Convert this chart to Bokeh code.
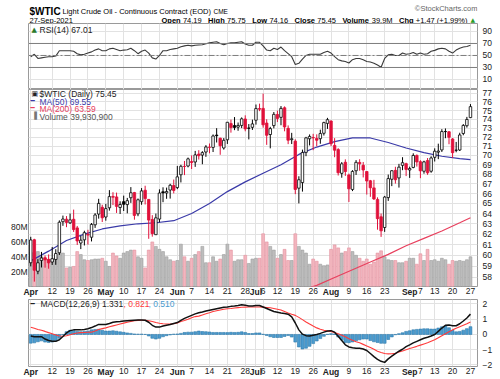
import pandas as pd
from bokeh.plotting import figure
from bokeh.layouts import column
from bokeh.models import (Range1d, FixedTicker, LinearAxis, LinearScale, Label,
                          Span, ColumnDataSource, CustomJSTickFormatter, BasicTickFormatter)
from bokeh.embed import file_html
from bokeh.resources import INLINE

FONT = "Liberation Sans"

# ---------------- data ----------------
first_day, last_day = "2021-04-01", "2021-09-27"
holidays = ["2021-04-02", "2021-05-31", "2021-07-05", "2021-09-06"]
close_before_start = 59.16

opens = [59.33, 61.47, 58.56, 59.54, 59.79, 59.64, 59.40, 59.63, 60.25, 63.20,
         63.45, 63.09, 63.44, 62.60, 61.16, 61.46, 61.99, 61.71, 62.90, 63.95,
         64.62, 63.66, 64.57, 65.71, 65.66, 64.60, 65.18, 64.89, 65.58, 66.10,
         63.97, 65.18, 66.34, 65.41, 63.42, 61.95, 63.46, 66.18, 66.06, 66.36,
         66.82, 66.61, 67.94, 68.82, 68.86, 69.33, 69.29, 70.14, 70.03, 70.36,
         70.86, 70.86, 72.22, 71.87, 70.80, 71.70, 73.51, 73.28, 73.11, 73.30,
         74.03, 73.01, 73.09, 73.89, 75.23, 75.25, 73.57, 72.28, 73.28, 74.55,
         74.22, 75.32, 72.97, 71.71, 71.55, 66.55, 67.13, 70.32, 71.81, 71.95,
         71.85, 71.82, 72.42, 73.53, 73.80, 71.08, 70.62, 68.09, 69.26, 67.92,
         66.42, 68.36, 69.24, 68.94, 68.28, 67.31, 66.58, 65.41, 63.68, 62.64,
         65.59, 67.47, 68.40, 67.61, 68.93, 69.11, 68.44, 68.71, 69.99, 69.32,
         68.31, 69.44, 68.31, 69.79, 70.35, 70.59, 72.61, 72.59, 71.79, 70.55,
         70.58, 72.40, 73.27, 74.19]
highs = [61.75, 61.56, 59.66, 60.33, 60.00, 60.10, 60.79, 60.58, 63.33, 63.80,
         63.75, 64.00, 64.39, 62.79, 61.84, 62.33, 62.42, 63.07, 64.04, 65.47,
         64.87, 64.96, 66.35, 66.14, 66.10, 65.22, 65.79, 65.56, 66.66, 66.17,
         65.50, 66.56, 66.80, 65.43, 63.84, 64.00, 66.43, 66.64, 66.61, 67.00,
         67.44, 68.87, 68.99, 69.40, 69.76, 70.00, 70.48, 70.56, 70.45, 71.11,
         71.29, 72.29, 72.99, 71.93, 71.89, 73.69, 73.96, 74.25, 73.63, 74.21,
         74.45, 73.46, 73.96, 75.70, 75.80, 76.98, 74.00, 73.14, 74.83, 74.99,
         75.52, 75.48, 73.30, 72.47, 71.75, 67.78, 70.62, 72.02, 72.29, 72.36,
         72.30, 72.82, 73.72, 74.16, 73.87, 71.88, 70.78, 69.28, 69.57, 68.06,
         68.42, 69.49, 69.58, 69.29, 68.28, 67.40, 67.41, 65.62, 64.00, 65.76,
         67.96, 68.42, 68.78, 69.09, 69.80, 69.21, 68.79, 70.22, 70.10, 69.48,
         69.42, 69.71, 69.90, 70.76, 71.27, 72.88, 72.96, 72.67, 71.89, 71.46,
         72.48, 73.45, 74.27, 75.75]
lows = [59.00, 57.63, 58.29, 58.90, 58.88, 58.79, 59.13, 59.14, 60.04, 62.80,
        62.67, 62.98, 62.21, 60.98, 60.59, 60.93, 61.01, 61.31, 62.60, 63.50,
        63.17, 63.30, 64.29, 64.84, 64.06, 63.96, 64.25, 64.02, 65.06, 63.40,
        63.74, 64.87, 64.90, 61.56, 61.76, 61.92, 63.14, 65.13, 65.47, 65.49,
        66.02, 66.45, 67.14, 67.90, 68.72, 68.54, 68.77, 69.55, 69.05, 69.84,
        70.22, 70.36, 71.40, 70.06, 70.62, 71.24, 72.49, 72.77, 72.70, 73.00,
        72.64, 71.74, 72.79, 73.39, 74.93, 73.05, 71.14, 70.76, 72.97, 73.68,
        73.32, 72.64, 71.22, 71.23, 65.94, 65.01, 66.20, 69.91, 71.08, 70.56,
        70.99, 71.26, 72.17, 72.91, 71.00, 69.80, 67.86, 67.63, 67.82, 65.15,
        66.25, 67.92, 68.36, 67.66, 65.90, 65.67, 65.35, 62.43, 61.74, 62.22,
        65.26, 66.76, 67.02, 66.61, 68.42, 67.80, 67.61, 68.62, 68.80, 67.58,
        68.05, 67.93, 68.15, 69.34, 69.59, 70.37, 71.87, 71.21, 69.72, 70.33,
        70.47, 72.20, 73.06, 74.16]
closes = [61.45, 58.65, 59.33, 59.77, 59.60, 59.32, 59.70, 60.18, 63.15, 63.46,
          63.13, 63.38, 62.44, 61.35, 61.43, 62.14, 61.91, 62.94, 63.86, 65.01,
          63.58, 64.49, 65.69, 65.63, 64.71, 64.90, 64.92, 65.28, 66.08, 63.82,
          65.37, 66.27, 65.49, 63.36, 62.05, 63.58, 66.05, 66.07, 66.21, 66.85,
          66.32, 67.72, 68.83, 68.81, 69.62, 69.23, 70.05, 69.96, 70.29, 70.91,
          70.88, 72.12, 72.15, 71.04, 71.64, 73.66, 73.06, 73.08, 73.30, 74.05,
          72.91, 72.98, 73.47, 75.23, 75.16, 73.37, 72.20, 72.94, 74.56, 74.10,
          75.25, 73.13, 71.65, 71.81, 66.42, 67.42, 70.30, 71.91, 72.07, 71.91,
          71.65, 72.39, 73.62, 73.95, 71.26, 70.56, 68.15, 69.09, 68.28, 66.48,
          68.29, 69.25, 69.09, 68.44, 67.29, 66.59, 65.46, 63.50, 62.32, 65.64,
          67.54, 68.36, 67.42, 68.74, 69.21, 68.50, 68.59, 69.99, 69.29, 68.35,
          69.30, 68.14, 69.72, 70.45, 70.46, 72.61, 72.61, 71.97, 70.29, 70.56,
          72.23, 73.30, 73.98, 75.45]
volume_m = [46, 45, 47, 40, 38, 36, 37, 40, 49, 45,
            25, 26, 27, 47, 43, 36, 35, 36, 37, 37,
            38, 34, 27, 45, 41, 38, 45, 47, 49, 49,
            40, 38, 25, 49, 60, 54, 50, 47, 40, 36,
            34, 35, 57, 40, 34, 38, 43, 47, 54, 32,
            32, 40, 34, 37, 43, 57, 49, 34, 36, 36,
            42, 31, 37, 38, 38, 71, 60, 54, 49, 38,
            43, 50, 35, 35, 71, 54, 49, 45, 30, 37,
            34, 30, 28, 29, 50, 56, 52, 45, 47, 52,
            47, 42, 38, 34, 37, 30, 33, 45, 48, 40,
            36, 35, 35, 32, 32, 34, 38, 38, 30, 44,
            35, 50, 35, 36, 34, 38, 36, 30, 35, 34,
            35, 34, 36, 39.9309]
rsi14 = [48, 52, 45, 46, 47, 48, 48, 49, 58, 58,
         58, 58, 57, 53, 51, 52, 54, 56, 59, 61,
         58, 58, 61, 62, 60, 58, 59, 59.5, 62, 58,
         53, 57, 59, 54, 46, 44, 50, 58, 58, 60,
         61, 62, 64.5, 66, 67, 66, 67, 67.5, 68, 69.5,
         71, 72, 73, 70, 68, 70, 71, 71, 72, 73,
         69, 67, 67, 72, 72, 66, 59, 58, 62, 60,
         64, 58, 53, 48, 35, 37, 44, 50, 52, 52,
         52, 52, 55, 57, 54, 48, 43, 41, 40, 37.5,
         43, 45, 45, 43, 40, 39, 37, 34, 30.5, 45,
         51, 52, 50, 50, 54, 52, 53, 55, 52, 54,
         52, 53, 57, 58.5, 61, 62, 61, 57, 54, 59,
         62, 64, 65, 67.01]
macd_line = [-0.10, -0.15, -0.15, -0.15, -0.30, -0.40, -0.45, -0.45, -0.35, -0.13,
             0.10, 0.25, 0.30, 0.30, 0.30, 0.33, 0.37, 0.45, 0.55, 0.66,
             0.66, 0.65, 0.72, 0.80, 0.83, 0.85, 0.88, 0.90, 0.92, 0.93,
             0.94, 0.95, 0.93, 0.80, 0.60, 0.48, 0.48, 0.55, 0.60, 0.65,
             0.72, 0.78, 0.92, 1.05, 1.15, 1.25, 1.35, 1.42, 1.47, 1.53,
             1.58, 1.63, 1.68, 1.73, 1.78, 1.80, 1.84, 1.86, 1.90, 1.95,
             1.92, 1.86, 1.86, 1.90, 1.90, 1.80, 1.70, 1.60, 1.50, 1.45,
             1.40, 1.37, 1.33, 1.15, 0.75, 0.30, 0.02, -0.08, -0.10, -0.05,
             0.00, 0.07, 0.15, 0.23, 0.25, 0.15, -0.12, -0.40, -0.68, -0.82,
             -0.87, -0.90, -0.90, -0.95, -1.05, -1.25, -1.45, -1.63, -1.76, -1.83,
             -1.60, -1.42, -1.25, -1.10, -0.97, -0.80, -0.68, -0.55, -0.45, -0.35,
             -0.25, -0.18, -0.10, 0.00, 0.20, 0.42, 0.60, 0.62, 0.57, 0.57,
             0.70, 0.88, 1.08, 1.331]
signal_line = [0.47, 0.40, 0.33, 0.27, 0.20, 0.12, 0.05, -0.03, -0.10, -0.12,
               -0.08, -0.02, 0.05, 0.10, 0.12, 0.13, 0.14, 0.15, 0.22, 0.32,
               0.38, 0.43, 0.50, 0.56, 0.62, 0.68, 0.74, 0.80, 0.85, 0.90,
               0.92, 0.93, 0.93, 0.90, 0.85, 0.78, 0.73, 0.70, 0.68, 0.68,
               0.70, 0.75, 0.85, 0.92, 1.00, 1.10, 1.17, 1.20, 1.28, 1.35,
               1.42, 1.50, 1.55, 1.60, 1.65, 1.68, 1.70, 1.73, 1.76, 1.78,
               1.79, 1.80, 1.80, 1.80, 1.80, 1.79, 1.77, 1.75, 1.70, 1.65,
               1.60, 1.50, 1.40, 1.32, 1.25, 1.12, 0.97, 0.82, 0.68, 0.55,
               0.43, 0.34, 0.27, 0.22, 0.20, 0.12, 0.05, -0.05, -0.15, -0.28,
               -0.38, -0.48, -0.55, -0.65, -0.75, -0.85, -0.97, -1.10, -1.18, -1.25,
               -1.27, -1.26, -1.23, -1.15, -1.08, -1.00, -0.92, -0.85, -0.78, -0.70,
               -0.62, -0.55, -0.45, -0.35, -0.22, -0.08, 0.05, 0.18, 0.30, 0.40,
               0.50, 0.60, 0.70, 0.821]
ma50_days = [0, 5, 10, 15, 20, 25, 30, 35, 40, 45, 50, 55, 60, 65, 70, 75, 80, 85,
             90, 95, 100, 105, 110, 115, 120, 123]
ma50_vals = [59.5, 60.4, 61.4, 62.0, 62.5, 62.8, 63.0, 63.1, 63.3, 64.0, 65.0, 66.2,
             67.2, 68.1, 69.0, 70.1, 70.9, 71.5, 71.9, 71.9, 71.4, 70.8, 70.3, 69.9,
             69.65, 69.55]
ma200_days = [76, 80, 85, 90, 95, 100, 105, 110, 115, 120, 123]
ma200_vals = [56.9, 57.3, 58.0, 58.7, 59.4, 60.1, 60.9, 61.6, 62.3, 63.1, 63.59]

tick_dates = ["2021-04-01", "2021-04-12", "2021-04-19", "2021-04-26", "2021-05-03",
              "2021-05-10", "2021-05-17", "2021-05-24", "2021-06-01", "2021-06-07",
              "2021-06-14", "2021-06-21", "2021-06-28", "2021-07-01", "2021-07-06",
              "2021-07-12", "2021-07-19", "2021-07-26", "2021-08-02", "2021-08-09",
              "2021-08-16", "2021-08-23", "2021-09-01", "2021-09-07", "2021-09-13",
              "2021-09-20", "2021-09-27"]
tick_labels = ["Apr", "12", "19", "26", "May", "10", "17", "24", "Jun", "7", "14", "21",
               "28", "Jul", "6", "12", "19", "26", "Aug", "9", "16", "23", "Sep", "7",
               "13", "20", "27"]
month_names = ["Apr", "May", "Jun", "Jul", "Aug", "Sep"]
rsi_ticks = [10, 30, 50, 70, 90]
price_ticks = list(range(58, 78))
volume_ticks = [20e6, 40e6, 60e6, 80e6]
macd_ticks = [-2, -1, 0, 1, 2]

# ---------------- derived ----------------
days = [d.strftime("%Y-%m-%d") for d in pd.bdate_range(first_day, last_day)
        if d.strftime("%Y-%m-%d") not in holidays]
pos = {d: i for i, d in enumerate(days)}
x = list(range(len(days)))
tick_pos = [pos[d] for d in tick_dates]
month_pos = [tp for tp, lab in zip(tick_pos, tick_labels) if lab in month_names]
prev_close = [close_before_start] + closes[:-1]
up = [c >= p for c, p in zip(closes, prev_close)]
BLACK, RED = "#000000", "#e0103a"
ccol = [BLACK if u else RED for u in up]
cfill = ["#ffffff" if c > o else col for c, o, col in zip(closes, opens, ccol)]
vol = [v * 1e6 for v in volume_m]
vfill = ["#bdbdbd" if u else "#f2b5be" for u in up]
vline = ["#9c9c9c" if u else "#e492a0" for u in up]
hist = [m - s for m, s in zip(macd_line, signal_line)]

GRID = "#e2e2e2"
FRAME = "#9a9a9a"
TXT = "#222222"
BL, BR = 28, 23
AXFS = "8.5px"
LEGFS = "8.5px"
xr = Range1d(-0.63, 124.97)


def style_axis(ax, standoff=5, size=AXFS):
    ax.axis_line_color = None
    ax.major_tick_line_color = None
    ax.minor_tick_line_color = None
    ax.major_tick_out = 0
    ax.major_tick_in = 0
    ax.minor_tick_out = 0
    ax.minor_tick_in = 0
    ax.major_label_text_font = FONT
    ax.major_label_text_font_size = size
    ax.major_label_text_color = TXT
    ax.major_label_standoff = standoff


def panel(height, y_range, bottom, xaxis, **kw):
    p = figure(width=500, height=height, x_range=xr, y_range=y_range,
               output_backend="svg", toolbar_location=None,
               min_border_left=BL, min_border_right=BR, min_border_top=0,
               min_border_bottom=bottom, y_axis_location="right",
               x_axis_location="below" if xaxis else None, **kw)
    p.outline_line_color = FRAME
    p.xgrid.ticker = FixedTicker(ticks=tick_pos)
    p.grid.grid_line_color = GRID
    p.grid.grid_line_width = 1
    if xaxis:
        xa = p.xaxis[0]
        xa.ticker = FixedTicker(ticks=tick_pos)
        xa.major_label_overrides = {tp: ("" if lab in month_names else lab)
                                    for tp, lab in zip(tick_pos, tick_labels)}
        style_axis(xa, standoff=1)
        # second axis carrying the bold month names, pulled up onto the same row
        ma = LinearAxis(ticker=FixedTicker(ticks=month_pos),
                        major_label_overrides={tp: lab for tp, lab in
                                               zip(tick_pos, tick_labels)
                                               if lab in month_names})
        style_axis(ma, standoff=-10)
        ma.major_label_text_font_style = "bold"
        p.add_layout(ma, "below")
    return p


def legend(p, fx, fy, text, color=TXT, size=LEGFS, style="normal", font=FONT,
           baseline="top", align="left"):
    p.add_layout(Label(x=fx, y=fy, x_units="screen", y_units="screen", text=text,
                       text_font=font, text_font_size=size, text_color=color,
                       text_font_style=style, text_baseline=baseline, text_align=align))


def tag(p, val, text, color, **kw):
    p.add_layout(Label(x=451, y=val, x_units="screen", y_units="data", text=text,
                       text_font=FONT, text_font_size="7.5px", text_color=TXT,
                       text_baseline="middle", text_align="left",
                       background_fill_color="white", border_line_color=color,
                       border_line_width=1, padding=1, border_radius=3, **kw))


# ---------------- header (labels in a blank strip; y measured up from its bottom) ----
HH = 23
hdr = figure(width=500, height=HH, x_range=Range1d(0, 500), y_range=Range1d(0, HH),
             output_backend="svg", toolbar_location=None,
             min_border=0, min_border_left=0, min_border_right=0, min_border_top=0,
             min_border_bottom=0, x_axis_location=None, y_axis_location=None,
             outline_line_color=None)
hdr.grid.visible = False
# the column lines this strip's frame up with the panels' frames (left edge at BL)
H_LEFT = BL


def htext(px, base, text, size, style="normal", color="#000000", align="left", font=FONT):
    legend(hdr, px - H_LEFT, HH - base, text, color=color, size=size,
           style=style, font=font, baseline="alphabetic", align=align)


htext(29, 10.5, "$WTIC", "10px", style="bold")
htext(62, 10.5, "Light Crude Oil - Continuous Contract (EOD)", "7.5px")
htext(213, 10.5, "CME", "6.5px")
htext(477, 8, "\u00a9StockCharts.com", "7.5px", color="#666666", align="right")
htext(29, 19.5, "27-Sep-2021", "7.5px")

# row 2: label/value pairs laid out from the left edge of the block to its right end
HFS = 7.5
ARIAL = {c: 0.556 for c in "0123456789"}
ARIAL.update({".": 0.278, ",": 0.278, " ": 0.278, "+": 0.584, "(": 0.333, ")": 0.333,
              "%": 0.889, "M": 0.833})
BOLDW = {"Open": 2.556, "High": 2.222, "Low": 2.0, "Close": 2.723, "Volume": 3.612,
         "Chg": 1.944}
row_labels = ["Open", "High", "Low", "Close", "Volume", "Chg"]
row_values = [f"{opens[-1]:.2f}", f"{highs[-1]:.2f}", f"{lows[-1]:.2f}", f"{closes[-1]:.2f}",
              f"{volume_m[-1]:.1f}M",
              f"+{closes[-1]-closes[-2]:.2f} (+{(closes[-1]/closes[-2]-1)*100:.2f}%)"]
row_start, row_end = 161, 467
sp = 0.3 * HFS
fixed = sum(BOLDW[lab] * HFS + sp + sum(ARIAL.get(ch, 0.556) for ch in v) * HFS
            for lab, v in zip(row_labels, row_values))
gap = (row_end - row_start - fixed) / 5
cur = row_start
for lab, v in zip(row_labels, row_values):
    htext(cur, 19.5, lab, f"{HFS}px", style="bold")
    cur += BOLDW[lab] * HFS + sp
    htext(cur, 19.5, v, f"{HFS}px")
    cur += sum(ARIAL.get(ch, 0.556) for ch in v) * HFS + gap
htext(470, 19, "\u25b2", "6px", color="#2a9d2a", font="DejaVu Sans")

# ---------------- RSI ----------------
rp = panel(66, Range1d(-6.7, 103.3), 0, False)
rp.yaxis[0].ticker = FixedTicker(ticks=rsi_ticks)
style_axis(rp.yaxis[0])
for lvl, dash in [(70, "solid"), (30, "solid"), (50, "6 2 2 2")]:
    rp.add_layout(Span(location=lvl, dimension="width", line_color="#7d7d7d",
                       line_width=1, line_dash=dash))
rp.line(x, rsi14, line_color="#3a3a3a", line_width=1.1)
legend(rp, 3, 64, "\u25b2", color="#2a7a2a", size="7px", font="DejaVu Sans")
legend(rp, 11, 64.5, f"RSI(14) {rsi14[-1]:.2f}")
tag(rp, rsi14[-1], f"{rsi14[-1]:.2f}", "#000000")

# ---------------- price + volume ----------------
pp = panel(210, Range1d(57.2, 77.47), 11, True, y_axis_type="log")
pp.extra_y_ranges = {"vol": Range1d(0, 265.3e6)}
pp.extra_y_scales = {"vol": LinearScale()}
pa = pp.yaxis[0]
pa.ticker = FixedTicker(ticks=price_ticks)
pa.formatter = BasicTickFormatter()
style_axis(pa)
va = LinearAxis(y_range_name="vol", ticker=FixedTicker(ticks=volume_ticks),
                formatter=CustomJSTickFormatter(code="return (tick/1e6).toFixed(0) + 'M';"))
style_axis(va, standoff=1)
pp.add_layout(va, "left")

vsrc = ColumnDataSource(dict(x=x, top=vol, fill=vfill, line=vline))
pp.vbar(x="x", top="top", bottom=0, width=0.8, source=vsrc, fill_color="fill",
        line_color="line", line_width=0.6, y_range_name="vol")
pp.line(ma200_days, ma200_vals, line_color="#e8405e", line_width=1.2)
pp.line(ma50_days, ma50_vals, line_color="#3a3aa8", line_width=1.2)
csrc = ColumnDataSource(dict(x=x, o=opens, h=highs, l=lows, c=closes, col=ccol, fill=cfill))
pp.segment(x0="x", x1="x", y0="l", y1="h", source=csrc, line_color="col", line_width=1)
pp.vbar(x="x", top="o", bottom="c", width=0.7, source=csrc, fill_color="fill",
        line_color="col", line_width=0.8)

legend(pp, 3, 197, "\u25a3", size="7px", font="DejaVu Sans")
legend(pp, 11, 197.5, f"$WTIC (Daily) {closes[-1]:.2f}")
legend(pp, 2, 190, "\u2501", color="#3a3aa8", size="7px", font="DejaVu Sans")
legend(pp, 11, 190, f"MA(50) {ma50_vals[-1]:.2f}", color="#3a3aa8")
legend(pp, 2, 182.5, "\u2501", color="#e8405e", size="7px", font="DejaVu Sans")
legend(pp, 11, 182.5, f"MA(200) {ma200_vals[-1]:.2f}", color="#e8405e")
legend(pp, 3, 175, "\u2590", color="#777777", size="7px", font="DejaVu Sans")
legend(pp, 11, 175, f"Volume {int(round(volume_m[-1]*1e6)):,}", color="#555555")
tag(pp, closes[-1], f"{closes[-1]:.2f}", "#000000")
tag(pp, ma50_vals[-1], f"{ma50_vals[-1]:.2f}", "#3a3aa8")
tag(pp, ma200_vals[-1], f"{ma200_vals[-1]:.2f}", "#e8405e")
tag(pp, vol[-1], f"{int(volume_m[-1]*1000)}", "#000000", y_range_name="vol")

# ---------------- MACD ----------------
mp = panel(80, Range1d(-2.10, 2.29), 11, True)
mp.yaxis[0].ticker = FixedTicker(ticks=macd_ticks)
style_axis(mp.yaxis[0])
mp.vbar(x=x, top=hist, bottom=0, width=0.8, fill_color="#4a9bcf", line_color="#2f7bab",
        line_width=0.6)
mp.line(x, signal_line, line_color="#ff3b3b", line_width=1.1)
mp.line(x, macd_line, line_color="#111111", line_width=1.5)
legend(mp, 2, 67, "\u2501", size="7px", font="DejaVu Sans")
legend(mp, 12, 67.5, f"MACD(12,26,9) {macd_line[-1]:.3f}")
legend(mp, 95, 67.5, f", {signal_line[-1]:.3f}", color="#ff3b3b")
legend(mp, 120, 67.5, f", {hist[-1]:.3f}", color="#4a9bcf")
tag(mp, macd_line[-1], f"{macd_line[-1]:.3f}", "#000000")
tag(mp, signal_line[-1], f"{signal_line[-1]:.3f}", "#ff3b3b")
tag(mp, hist[-1], f"{hist[-1]:.3f}", "#4a9bcf")

layout = column(hdr, rp, pp, mp, spacing=0)
open("out.html", "w").write(file_html(layout, INLINE))
